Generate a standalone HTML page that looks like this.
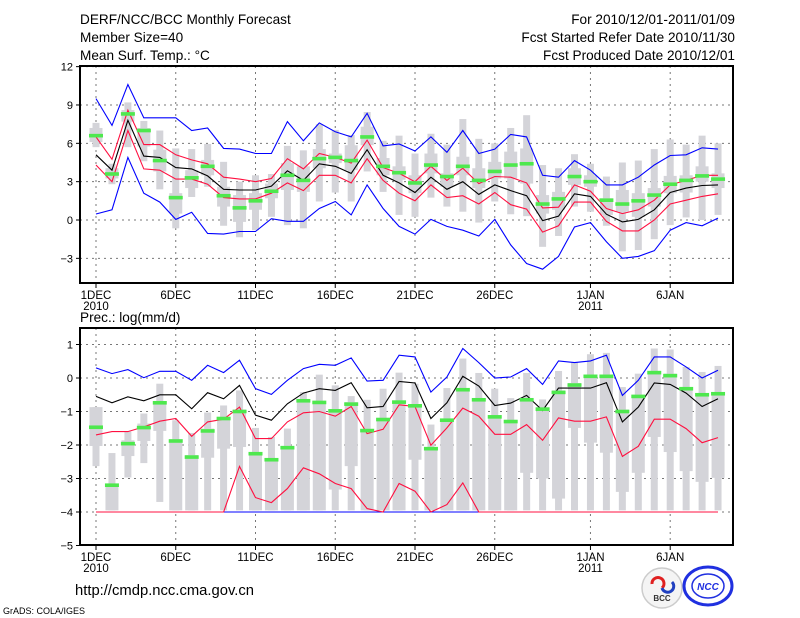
<!DOCTYPE html>
<html><head><meta charset="utf-8"><style>
body{margin:0;background:#fff;}
svg{display:block;font-family:"Liberation Sans",sans-serif;}
</style></head><body>
<svg id="c" width="800" height="618" viewBox="0 0 800 618">
<g id="hdr" font-size="13.6" fill="#000">
<text x="80" y="24">DERF/NCC/BCC Monthly Forecast</text>
<text x="80" y="42">Member Size=40</text>
<text x="80" y="60">Mean Surf. Temp.: °C</text>
<text x="735" y="24" text-anchor="end">For 2010/12/01-2011/01/09</text>
<text x="735" y="42" text-anchor="end">Fcst Started Refer Date 2010/11/30</text>
<text x="735" y="60" text-anchor="end">Fcst Produced Date 2010/12/01</text>
<text x="80" y="322">Prec.: log(mm/d)</text>
<text x="75" y="595" font-size="14.8">http://cmdp.ncc.cma.gov.cn</text>
<text x="3" y="614" font-size="9">GrADS: COLA/IGES</text>
</g>
<g>
<circle cx="662" cy="588" r="20" fill="#f4f4f4" stroke="#ccc" stroke-width="1.5"/>
<path d="M652 584 a6 6 0 1 1 10 4" fill="none" stroke="#e02020" stroke-width="3"/>
<path d="M672 582 a6 6 0 1 1 -10 6" fill="none" stroke="#2040c0" stroke-width="3"/>
<text x="662" y="601" font-size="8" font-weight="bold" text-anchor="middle" fill="#333">BCC</text>
</g>
<g>
<ellipse cx="708" cy="586" rx="24" ry="19" fill="none" stroke="#2030e0" stroke-width="3"/>
<ellipse cx="708" cy="586" rx="16" ry="12" fill="none" stroke="#2030e0" stroke-width="1.5"/>
<text x="708" y="590" font-size="10" font-weight="bold" font-style="italic" text-anchor="middle" fill="#2030e0">NCC</text>
</g>
</svg>
<script>
const days = Array.from({length:40},(_, i)=>i+1);
// Temperature panel
const tMax=[9.5,7.4,10.6,8.0,8.0,8.0,7.0,7.2,5.6,5.55,5.2,5.2,7.7,6.2,7.6,6.9,6.5,8.35,5.8,5.95,5.4,6.5,5.3,7.0,5.2,5.55,6.7,6.5,3.5,3.35,4.65,3.9,2.75,2.75,3.35,4.3,5.05,5.1,5.65,5.55];
const tMin=[0.47,0.8,4.9,2.1,1.4,0.05,0.6,-1.05,-1.1,-0.9,-0.9,0.1,-0.1,-0.1,0.9,1.45,0.4,2.75,0.9,-0.5,-1.1,0.05,-0.5,-0.8,-1.25,0.05,-1.95,-3.4,-3.85,-2.85,-0.55,-0.2,-1.7,-3.0,-2.85,-2.4,-0.8,-0.2,-0.45,0.15];
const tUp=[6.5,4.75,8.6,5.9,5.9,5.1,4.7,4.4,3.35,3.2,3.0,3.25,4.8,4.0,5.2,4.9,4.45,6.25,4.1,3.65,3.0,4.2,3.1,4.05,2.85,3.4,3.35,2.9,0.95,1.0,2.75,2.25,0.9,0.5,0.8,1.55,2.75,3.1,3.5,3.5];
const tLo=[4.3,3.0,7.0,4.0,3.9,3.2,3.2,2.8,1.75,1.65,1.65,2.1,2.9,2.3,3.5,3.5,2.9,4.8,3.1,2.1,1.5,2.75,1.75,1.9,1.25,2.15,1.2,0.85,-0.95,-0.45,1.4,1.4,-0.1,-0.85,-0.85,0.0,1.25,1.55,1.85,2.05];
const tMean=[5.1,3.9,7.8,5.0,4.9,4.1,4.0,3.45,2.4,2.35,2.35,2.65,3.85,3.1,4.4,4.2,3.65,5.5,3.5,2.9,2.15,3.35,2.4,3.0,2.0,2.75,2.3,1.9,-0.05,0.3,2.05,1.85,0.45,-0.15,0.05,0.8,2.15,2.5,2.7,2.75];
const tObs=[6.6,3.6,8.3,7.0,4.65,1.75,3.3,4.2,1.9,0.95,1.5,2.25,3.5,3.1,4.8,4.9,4.65,6.5,4.2,3.7,2.9,4.3,3.4,4.2,3.1,3.8,4.3,4.4,1.25,1.65,3.4,3.0,1.55,1.25,1.5,1.95,2.8,3.1,3.45,3.2];
const tBoxHi=[7.6,4.4,9.2,7.75,7.0,5.6,5.55,5.95,4.55,3.0,3.5,3.6,5.8,5.45,7.5,7.05,6.65,8.45,6.2,6.6,5.2,6.75,5.9,7.9,6.35,6.0,7.2,8.2,4.3,4.05,5.15,4.4,3.4,4.5,4.65,5.55,6.3,5.9,6.6,6.0];
const tBoxLo=[5.7,2.8,5.7,4.6,2.4,-0.65,1.8,2.6,-0.45,-1.35,-0.8,0.25,-0.4,-0.65,1.45,2.15,1.45,3.8,2.2,0.4,0.25,1.75,1.05,0.65,-0.2,1.45,0.45,0.3,-2.1,-1.25,1.05,0.65,-0.45,-2.45,-2.35,-1.5,-0.4,0.2,0.0,0.4];
const tQHi=[7.2,4.05,8.6,7.2,5.5,2.1,3.9,4.7,2.6,1.95,2.1,2.85,4.45,4.2,5.55,5.2,5.85,7.3,4.85,4.2,3.5,5.2,3.65,4.95,4.05,4.55,5.35,5.6,1.95,2.2,4.05,3.5,1.7,2.35,2.1,2.5,3.45,3.5,4.2,3.65];
const tQLo=[6.1,3.25,7.7,5.75,3.8,0.5,2.5,3.5,1.05,-0.15,0.8,1.7,2.35,2.2,4.05,4.45,3.9,5.85,3.5,3.15,2.1,3.65,2.6,3.5,2.5,3.25,3.25,2.85,0.5,0.8,2.75,2.6,0.4,0.65,0.25,1.05,2.1,2.15,3.0,2.5];
const tTicks=[12,9,6,3,0,-3];
// Precipitation panel
const pMax=[0.3,0.13,0.25,0.01,0.2,0.2,-0.07,0.38,0.16,0.53,-0.32,-0.49,-0.07,0.28,0.41,0.38,0.6,-0.09,-0.07,0.68,0.63,-0.42,0.03,0.88,0.46,0.0,0.03,0.28,-0.19,0.51,0.46,0.51,0.68,-0.52,-0.07,0.63,0.63,0.33,0.0,0.23];
const pMin=[-4,-4,-4,-4,-4,-4,-4,-4,-4,-4,-4,-4,-4,-4,-4,-4,-4,-4,-4,-4,-4,-4,-4,-4,-4,-4,-4,-4,-4,-4,-4,-4,-4,-4,-4,-4,-4,-4,-4,-4];
const pUp=[-1.7,-1.6,-1.6,-1.46,-1.29,-1.21,-1.74,-1.31,-1.23,-0.87,-1.81,-1.81,-1.31,-1.04,-1.0,-1.14,-0.85,-1.66,-1.53,-0.8,-0.85,-2.01,-1.49,-0.9,-1.14,-1.68,-1.68,-1.39,-1.86,-1.19,-1.29,-1.29,-1.16,-2.34,-2.04,-1.23,-1.23,-1.51,-1.93,-1.78];
const pLo=[-4,-4,-4,-4,-4,-4,-4,-4,-4,-2.64,-3.57,-3.72,-3.3,-2.68,-2.86,-3.15,-3.3,-3.9,-4,-3.15,-3.38,-4,-3.78,-3.13,-4,-4,-4,-4,-4,-4,-4,-4,-4,-4,-4,-4,-4,-4,-4,-4];
const pMean=[-0.55,-0.74,-0.56,-0.68,-0.5,-0.5,-0.92,-0.44,-0.62,-0.22,-1.11,-1.26,-0.77,-0.45,-0.32,-0.37,-0.14,-0.89,-0.85,-0.1,-0.15,-1.21,-0.74,0.05,-0.24,-0.82,-0.75,-0.52,-0.97,-0.3,-0.3,-0.3,-0.14,-1.31,-0.87,-0.15,-0.19,-0.45,-0.85,-0.62];
const pObs=[-1.47,-3.2,-1.96,-1.48,-0.74,-1.88,-2.36,-1.58,-1.21,-1.0,-2.26,-2.44,-2.08,-0.68,-0.73,-0.98,-0.78,-1.57,-1.24,-0.72,-0.83,-2.11,-1.26,-0.35,-0.65,-1.16,-1.3,-0.65,-0.93,-0.43,-0.21,0.05,0.05,-1.0,-0.55,0.16,0.07,-0.32,-0.5,-0.47];
const pBoxHi=[-0.87,-2.24,-1.6,-1.06,-0.17,-1.26,-1.64,-1.03,-0.82,-0.37,-1.49,-1.76,-1.51,-0.42,0.1,-0.22,-0.54,-0.65,-0.32,0.16,-0.17,-1.39,-0.3,0.58,0.15,-0.32,-0.6,0.15,-0.64,0.21,0.46,0.71,0.75,-0.27,0.13,0.88,0.85,0.33,0.18,0.36];
const pBoxLo=[-2.63,-3.95,-2.97,-2.54,-3.7,-3.95,-3.95,-3.95,-3.95,-3.95,-3.95,-3.95,-3.95,-3.95,-3.95,-3.95,-3.95,-3.95,-3.95,-3.95,-3.95,-3.95,-3.95,-3.95,-3.95,-3.95,-3.95,-3.95,-3.95,-3.95,-3.95,-3.95,-3.95,-3.95,-3.95,-3.95,-3.95,-3.95,-3.95,-3.95];
const pQHi=[-0.87,-3.2,-1.86,-1.36,-0.72,-1.83,-2.3,-1.51,-1.16,-0.94,-2.21,-2.39,-2.03,-0.63,-0.68,-0.94,-0.72,-1.52,-1.19,-0.67,-0.82,-2.06,-1.21,-0.3,-0.6,-1.11,-1.25,-0.6,-0.87,-0.37,-0.15,0.1,0.1,-0.94,-0.5,0.21,0.13,-0.27,-0.45,-0.42];
const pQLo=[-2.03,-3.95,-2.33,-1.88,-1.58,-3.95,-3.95,-2.38,-2.11,-2.06,-3.95,-3.95,-3.95,-3.95,-3.95,-3.33,-2.63,-3.95,-3.95,-3.95,-2.44,-3.95,-3.95,-3.95,-3.95,-3.95,-3.95,-2.83,-3.0,-3.6,-1.49,-1.93,-2.23,-3.4,-2.83,-1.76,-2.21,-2.78,-3.1,-2.98];
const pTicks=[1,0,-1,-2,-3,-4,-5];
const xLabelDays=[1,6,11,16,21,26,32,37];
const xLabels=["1DEC","6DEC","11DEC","16DEC","21DEC","26DEC","1JAN","6JAN"];
const xYears={1:"2010",32:"2011"};

const svg=document.getElementById('c');
const NS='http://www.w3.org/2000/svg';
function mk(tag,attrs,parent){const e=document.createElementNS(NS,tag);for(const k in attrs)e.setAttribute(k,attrs[k]);(parent||svg).appendChild(e);return e;}
const X0=80,X1=733;
function xS(d){return 96+(d-1)*15.95;}

function panel(cfg){
  const g=mk('g',{});
  
  
  const y=v=>cfg.base-cfg.k*v;
  cfg.ticks.forEach(t=>{
    const gl=mk('line',{x1:X0,x2:X1,y1:y(t),y2:y(t),stroke:'#777','stroke-dasharray':'2,4','stroke-width':1},g);
    
    
    const tk=mk('line',{x1:X0-4,x2:X0,y1:y(t),y2:y(t),stroke:'#000'},g);
    
    
    const tl=mk('text',{x:X0-7,y:y(t)+4,'font-size':11,'text-anchor':'end'},g);
    tl.textContent=t<0?'\u2212'+(-t):String(t);
    
    
  });
  xLabelDays.forEach((d,i)=>{
    const gl=mk('line',{x1:xS(d),x2:xS(d),y1:cfg.top,y2:cfg.bot,stroke:'#777','stroke-dasharray':'2,4'},g);
    
    
    const tk=mk('line',{x1:xS(d),x2:xS(d),y1:cfg.bot,y2:cfg.bot+5,stroke:'#000'},g);
    
    
    const tl=mk('text',{x:xS(d),y:cfg.bot+16,'font-size':11.5,'text-anchor':'middle'},g);
    tl.textContent=xLabels[i];
    
    
    if(xYears[d]){
      const yl=mk('text',{x:xS(d),y:cfg.bot+27,'font-size':11.5,'text-anchor':'middle'},g);
      yl.textContent=xYears[d];
      
      
    }
  });
  days.forEach((d,i)=>{
    const cx=xS(d);
    const o=mk('rect',{x:cx-3.5,width:7,y:y(cfg.bHi[i]),height:y(cfg.bLo[i])-y(cfg.bHi[i]),fill:'#d4d4d9'},g);
    
    
    const q=mk('rect',{x:cx-6.5,width:13,y:y(cfg.qHi[i]),height:y(cfg.qLo[i])-y(cfg.qHi[i]),fill:'#d4d4d9'},g);
    
    
  });
  const line=(arr,col,nm)=>{
    const p=mk('polyline',{points:days.map((d,i)=>xS(d).toFixed(1)+','+y(arr[i]).toFixed(1)).join(' '),fill:'none',stroke:col,'stroke-width':1.1},g);
    
    
  };
  line(cfg.mx,'#0000ff','max-line');
  line(cfg.mn,'#0000ff','min-line');
  line(cfg.up,'#ff1040','upper-line');
  line(cfg.lo,'#ff1040','lower-line');
  line(cfg.mean,'#000','ensemble-mean-line');
  days.forEach((d,i)=>{
    const m=mk('rect',{x:xS(d)-7,width:14,y:y(cfg.obs[i])-1.8,height:3.6,fill:'#4ee84e'},g);
    
    
  });
  const f=mk('rect',{x:X0,y:cfg.top,width:X1-X0,height:cfg.bot-cfg.top,fill:'none',stroke:'#000','stroke-width':2},g);
  
  
}
panel({name:'temperature-panel',base:220,k:12.78,top:66,bot:283,ticks:tTicks,mx:tMax,mn:tMin,up:tUp,lo:tLo,mean:tMean,obs:tObs,bHi:tBoxHi,bLo:tBoxLo,qHi:tQHi,qLo:tQLo});
panel({name:'precipitation-panel',base:378,k:33.5,top:328,bot:545,ticks:pTicks,mx:pMax,mn:pMin,up:pUp,lo:pLo,mean:pMean,obs:pObs,bHi:pBoxHi,bLo:pBoxLo,qHi:pQHi,qLo:pQLo});
</script>
</body></html>
